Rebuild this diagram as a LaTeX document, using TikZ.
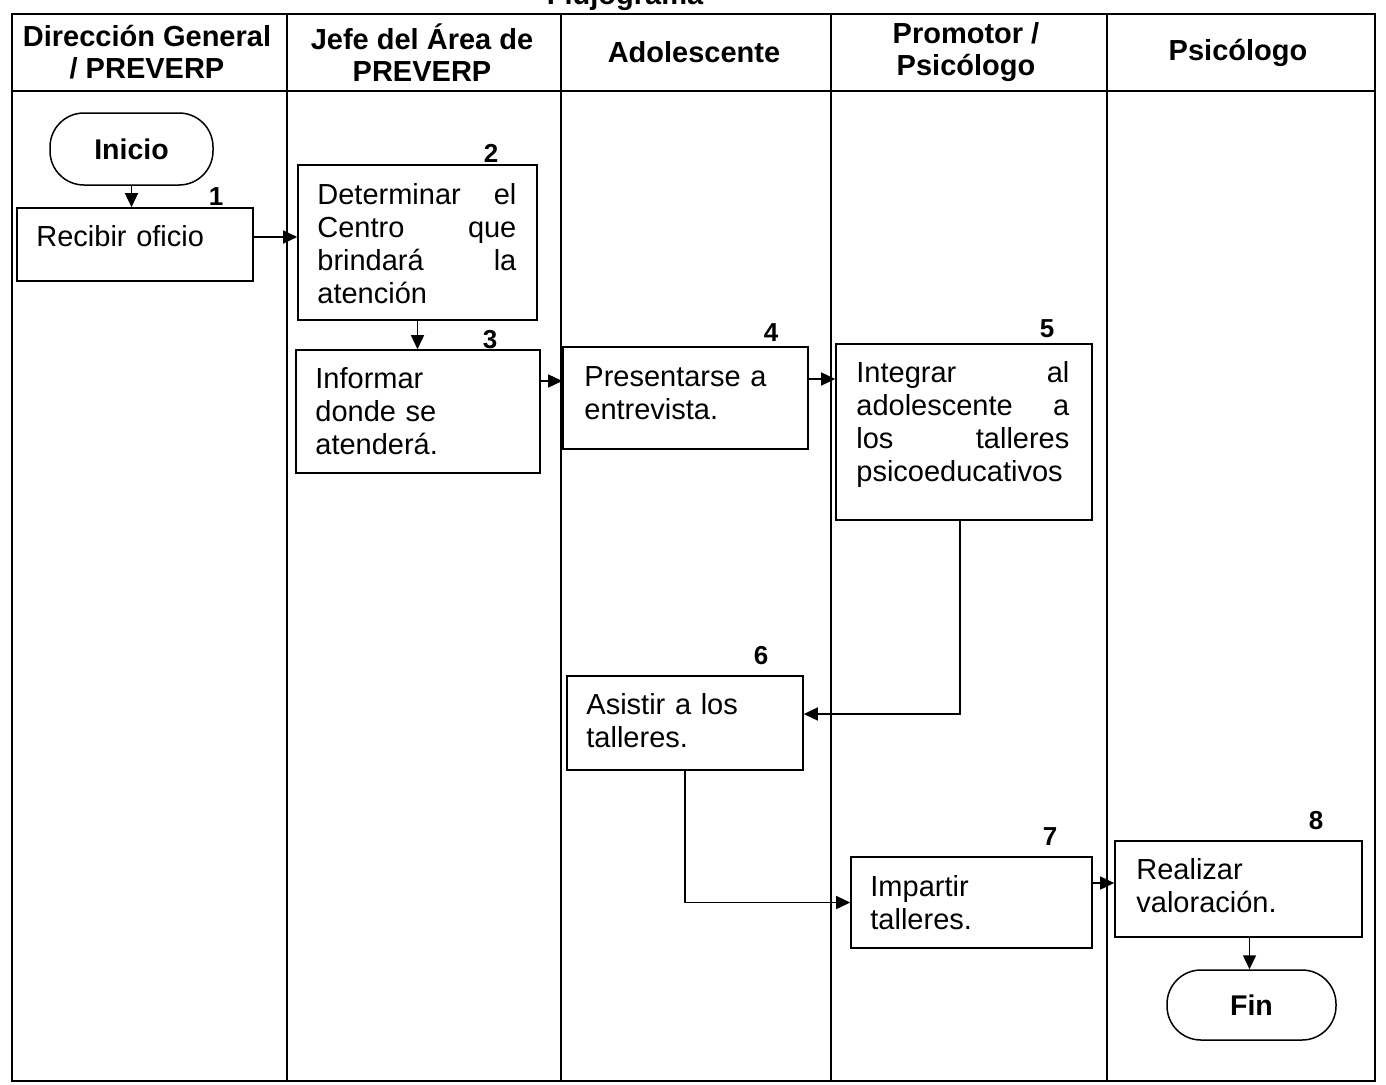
\documentclass[tikz,border=0pt]{standalone}
\usepackage{fontspec}
\setmainfont{Liberation Sans}
\usetikzlibrary{arrows.meta,calc}
\begin{document}
\begin{tikzpicture}[x=1pt,y=-1pt,
  frame/.style={line width=2.6pt},
  lane/.style={line width=1.4pt},
  box/.style={draw,line width=1.6pt,rectangle,inner sep=0pt},
  term/.style={draw,line width=1.5pt,rectangle,rounded corners=34pt,inner sep=0pt,
    font=\bfseries\fontsize{28.5}{32}\selectfont},
  txt/.style={inner sep=0pt,anchor=base west,align=left,
    font=\fontsize{29}{33}\selectfont},
  num/.style={inner sep=0pt,font=\bfseries\fontsize{26}{30}\selectfont},
  hdr/.style={inner sep=0pt,align=center,font=\bfseries\fontsize{29}{32}\selectfont},
  arr/.style={line width=1.5pt,-{Triangle[length=14pt,width=13pt]}}]
\useasboundingbox (0,0) rectangle (1386,1084);

% title (mostly above the page edge)
\node[inner sep=0pt,anchor=base,font=\bfseries\fontsize{29}{33}\selectfont] (title) at (625,5) {Flujograma};

% table frame, header row and lanes
\draw[frame] (12,14) rectangle (1375,1081);
\draw[line width=2pt] (12,91) -- (1375,91);
\foreach \lx in {287,561,831,1107}
  \draw[lane] (\lx,14) -- (\lx,1081);

% lane headers
\node[hdr] (h1) at (147,52.5) {Dirección General\\/ PREVERP};
\node[hdr] (h2) at (422,52.5) {Jefe del Área de\\PREVERP};
\node[hdr] (h3) at (694,52.5) {Adolescente};
\node[hdr] (h4) at (966,52.5) {Promotor /\\Psicólogo};
\node[hdr] (h5) at (1238,52.5) {Psicólogo};

% start and end terminals
\node[term,minimum width=163pt,minimum height=72pt] (ini) at (131.5,149) {Inicio};
\node[term,minimum width=169pt,minimum height=70pt] (fin) at (1251.5,1005) {Fin};

% process boxes
\node[box,minimum width=236pt,minimum height=73pt]  (b1) at (135,244.5) {};
\node[box,minimum width=239pt,minimum height=155pt] (b2) at (417.5,242.5) {};
\node[box,minimum width=244pt,minimum height=123pt] (b3) at (418,411.5) {};
\node[box,minimum width=245pt,minimum height=102pt] (b4) at (685.5,398) {};
\node[box,minimum width=256pt,minimum height=176pt] (b5) at (964,432) {};
\node[box,minimum width=236pt,minimum height=94pt]  (b6) at (685,723) {};
\node[box,minimum width=241pt,minimum height=91pt]  (b7) at (971.5,902.5) {};
\node[box,minimum width=247pt,minimum height=96pt]  (b8) at (1238.5,889) {};

% box texts
\node[txt,text width=200pt] (t1) at ($(b1.north west)+(20,39)$) {Recibir oficio};
\node[txt,text width=199pt] (t2) at ($(b2.north west)+(20,40)$)
  {Determinar\hfill el\\Centro\hfill que\\brindará\hfill la\\atención};
\node[txt,text width=210pt] (t3) at ($(b3.north west)+(20,39)$) {Informar\\donde se\\atenderá.};
\node[txt,text width=210pt] (t4) at ($(b4.north west)+(22,40)$) {Presentarse a\\entrevista.};
\node[txt,text width=213pt] (t5) at ($(b5.north west)+(21,39)$)
  {Integrar\hfill al\\adolescente\hfill a\\los\hfill talleres\\psicoeducativos};
\node[txt,text width=200pt] (t6) at ($(b6.north west)+(20,39)$) {Asistir a los\\talleres.};
\node[txt,text width=200pt] (t7) at ($(b7.north west)+(20,40)$) {Impartir\\talleres.};
\node[txt,text width=210pt] (t8) at ($(b8.north west)+(22,39)$) {Realizar\\valoración.};

% step numbers
\node[num] (n1) at (216,197) {1};
\node[num] (n2) at (491,153) {2};
\node[num] (n3) at (490,340) {3};
\node[num] (n4) at (771,333) {4};
\node[num] (n5) at (1047,329) {5};
\node[num] (n6) at (761,656) {6};
\node[num] (n7) at (1050,837) {7};
\node[num] (n8) at (1316,821) {8};

% flow connectors
\draw[arr] (ini.south) -- (ini.south |- b1.north);
\draw[arr] ([yshift=7.5pt]b1.east) -- ([yshift=7.5pt]b1.east -| b2.west);
\draw[arr] (b2.south) -- (b2.south |- b3.north);
\draw[arr] ([yshift=30.5pt]b3.east) -- ([yshift=30.5pt]b3.east -| b4.west);
\draw[arr] ([yshift=19pt]b4.east) -- ([yshift=19pt]b4.east -| b5.west);
\draw[arr] ([xshift=-4pt]b5.south) |- ([yshift=9pt]b6.east);
\draw[arr] (b6.south) |- (b7.west);
\draw[arr] ([yshift=19.5pt]b7.east) -- ([yshift=19.5pt]b7.east -| b8.west);
\draw[arr] ([xshift=-2pt]fin.north |- b8.south) -- ([xshift=-2pt]fin.north);
\end{tikzpicture}
\end{document}
